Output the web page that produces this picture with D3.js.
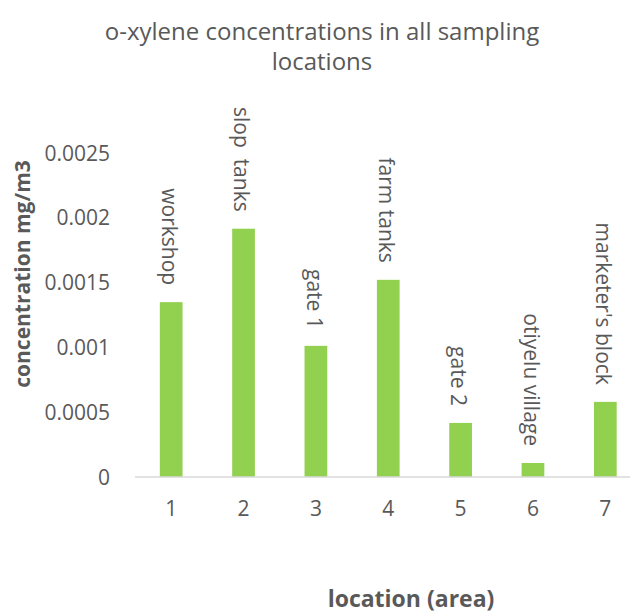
<!DOCTYPE html>
<html><head><meta charset="utf-8">
<script src="https://cdn.jsdelivr.net/npm/d3@7"></script>
<style>
html,body{margin:0;padding:0;background:#fff;}
svg{display:block;font-family:"Open Sans",sans-serif;}
</style></head>
<body><svg id="c" width="630" height="616"></svg>
<script>
const categories = ["1","2","3","4","5","6","7"];
const locationNames = ["workshop","slop  tanks","gate 1","farm tanks","gate 2","otiyelu village","marketer's block"];
const values = [0.001348,0.001914,0.001011,0.00152,0.000417,0.000108,0.000579];
const yTicks = [0,0.0005,0.001,0.0015,0.002,0.0025];
const yTickLabels = ["0","0.0005","0.001","0.0015","0.002","0.0025"];
const titleLines = ["o-xylene concentrations in all sampling","locations"];
const yTitle = "concentration mg/m3";
const xTitle = "location (area)";

const svg = d3.select("#c");
const textColor = "#595959";
const plot = {left:135, right:641.5, top:152.7, bottom:477};

const x = d3.scaleBand().domain(categories).range([plot.left, plot.right]).paddingInner(0.686).paddingOuter(0.343);
const y = d3.scaleLinear().domain([0,0.0025]).range([plot.bottom, plot.top]);

// title
svg.append("g").selectAll("text").data(titleLines).join("text")
  .attr("x", 322).attr("y", (d,i)=>40+i*30)
  .attr("text-anchor","middle").attr("font-size",24).attr("fill",textColor)
  .text(d=>d);

// y axis labels
const yAxis = d3.axisLeft(y).tickValues(yTicks).tickFormat((d,i)=>yTickLabels[i]).tickSize(0).tickPadding(0);
const gy = svg.append("g").attr("transform",`translate(110,0)`).call(yAxis);
gy.select(".domain").remove();
gy.selectAll("text").attr("font-size",21).attr("fill",textColor).attr("font-family","Open Sans, sans-serif").attr("dy","0.35em");

// bars
svg.append("g").selectAll("rect").data(values).join("rect")
  .attr("x",(d,i)=>x(categories[i]))
  .attr("width",x.bandwidth())
  .attr("y",d=>y(d))
  .attr("height",d=>y(0)-y(d))
  .attr("fill","#92D050");

// x axis
const xAxis = d3.axisBottom(x).tickSize(0).tickPadding(0);
const gx = svg.append("g").attr("transform",`translate(0,${plot.bottom})`).call(xAxis);
gx.select(".domain").attr("stroke","#D9D9D9").attr("stroke-width",1.3).attr("d",`M${plot.left},0H630`);
gx.selectAll("text").attr("font-size",21).attr("fill",textColor).attr("font-family","Open Sans, sans-serif").attr("y",32).attr("dy","0.35em");

// data labels (rotated)
svg.append("g").selectAll("text").data(values).join("text")
  .attr("transform",(d,i)=>`translate(${x(categories[i])+x.bandwidth()/2-2},${y(d)-17}) rotate(90)`)
  .attr("text-anchor","end").attr("dy","0.35em")
  .style("white-space","pre")
  .attr("font-size",21).attr("fill",textColor)
  .text((d,i)=>locationNames[i]);

// axis titles
svg.append("text").attr("transform","translate(23,274) rotate(-90)")
  .attr("text-anchor","middle").attr("dy","0.35em").attr("font-size",21).attr("font-weight","bold").attr("fill",textColor)
  .text(yTitle);
svg.append("text").attr("x",411).attr("y",607)
  .attr("text-anchor","middle").attr("font-size",23).attr("font-weight","bold").attr("fill",textColor)
  .text(xTitle);
</script></body></html>
